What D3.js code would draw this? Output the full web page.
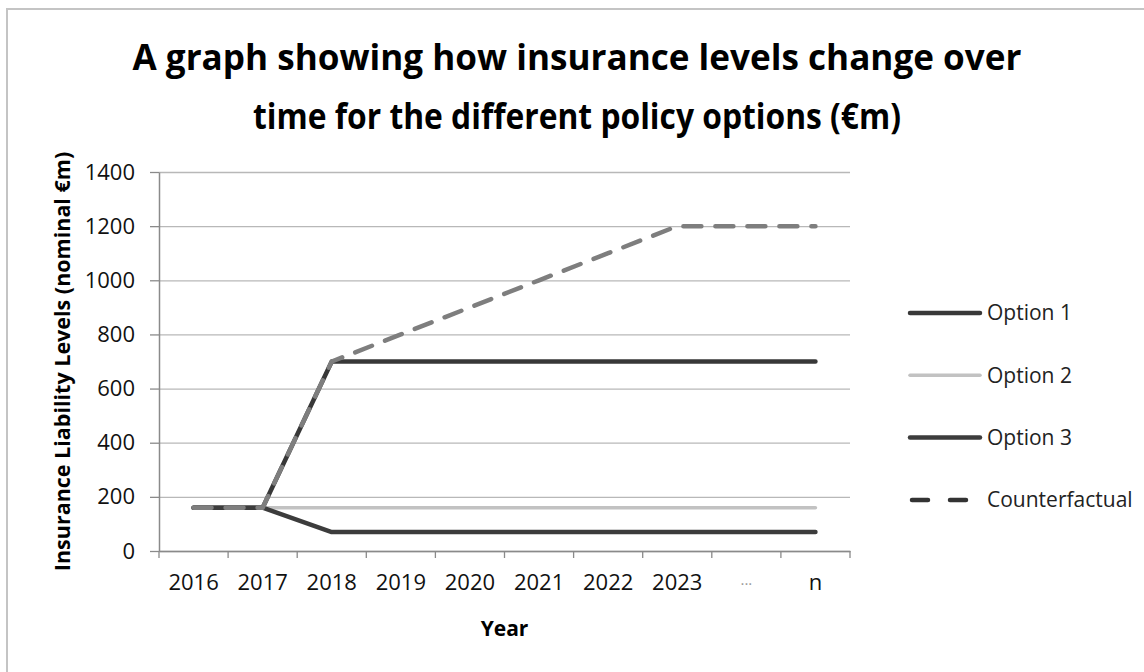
<!DOCTYPE html>
<html>
<head>
<meta charset="utf-8">
<script src="https://cdn.jsdelivr.net/npm/d3@7"></script>
<style>
  body { margin: 0; background: #fff; }
  svg { display: block; font-family: "Open Sans", sans-serif; }
</style>
</head>
<body>
<div id="chart"></div>
<script>
// values
var years = ['2016', '2017', '2018', '2019', '2020', '2021', '2022', '2023', '...', 'n'];
var option1 = [160, 160, 700, 700, 700, 700, 700, 700, 700, 700];
var option2 = [160, 160, 160, 160, 160, 160, 160, 160, 160, 160];
var option3 = [160, 160, 70, 70, 70, 70, 70, 70, 70, 70];
var counterfactual = [160, 160, 700, 800, 900, 1000, 1100, 1200, 1200, 1200];
var yTicks = [0, 200, 400, 600, 800, 1000, 1200, 1400];
var seriesNames = ['Option 1', 'Option 2', 'Option 3', 'Counterfactual'];

var titleLines = ['A graph showing how insurance levels change over',
                  'time for the different policy options (\u20acm)'];

function ready() {
  var W = 1144, H = 672;
  var left = 159, right = 850, top = 172, bottom = 551;

  var svg = d3.select('#chart').append('svg')
              .attr('width', W)
              .attr('height', H);

  svg.append('rect')
     .attr('width', W).attr('height', H)
     .attr('fill', '#fff');

  // scanned page frame
  svg.append('rect')
     .attr('x', 7).attr('y', 9)
     .attr('width', W + 20).attr('height', H + 20)
     .attr('fill', 'none')
     .attr('stroke', '#c4c4c4')
     .attr('stroke-width', 2);

  var x = d3.scaleBand().domain(years).range([left, right]);
  var y = d3.scaleLinear().domain([0, 1400]).range([bottom, top]);
  var cx = function(d) { return x(d) + x.bandwidth() / 2; };

  // title
  var title = svg.append('text')
                 .attr('text-anchor', 'middle')
                 .attr('font-weight', 'bold')
                 .attr('font-size', 35)
                 .attr('fill', '#000');
  var targetW = [889, 648];
  title.selectAll('tspan')
       .data(titleLines)
       .enter().append('tspan')
       .attr('x', 577)
       .attr('y', function(d, i) { return i == 0 ? 70 : 129; })
       .attr('textLength', function(d, i) { return targetW[i]; })
       .attr('lengthAdjust', 'spacingAndGlyphs')
       .text(function(d) { return d; });

  // gridlines
  svg.append('g')
     .attr('transform', 'translate(' + left + ',0)')
     .call(d3.axisLeft(y).tickValues(yTicks).tickSize(-(right - left)).tickFormat(''))
     .call(function(g) {
       g.select('.domain').remove();
       g.selectAll('line').attr('stroke', '#b8b8b8').attr('stroke-width', 1.3);
     });

  // y axis
  svg.append('g')
     .attr('transform', 'translate(' + left + ',0)')
     .call(d3.axisLeft(y).tickValues(yTicks).tickFormat(d3.format('d'))
             .tickSize(9).tickPadding(15).tickSizeOuter(0))
     .call(function(g) {
       g.select('.domain').attr('stroke', '#8a8a8a').attr('stroke-width', 1.5);
       g.selectAll('line').attr('stroke', '#8a8a8a').attr('stroke-width', 1.3);
       g.selectAll('text').attr('font-size', 22).attr('fill', '#111')
        .attr('font-family', '"Open Sans", sans-serif');
     });

  // x axis: labels centred, ticks between categories
  var xAxis = svg.append('g')
     .attr('transform', 'translate(0,' + bottom + ')')
     .call(d3.axisBottom(x).tickSize(0).tickPadding(23).tickSizeOuter(0))
     .call(function(g) {
       g.select('.domain').attr('stroke', '#8a8a8a').attr('stroke-width', 1.5);
       g.selectAll('text').attr('font-size', 22).attr('fill', '#111')
        .attr('font-family', '"Open Sans", sans-serif');
     });
  xAxis.selectAll('.tick text')
       .filter(function(d) { return d == '...'; })
       .attr('font-size', 15).attr('fill', '#999');

  var edges = years.map(function(d) { return x(d); }).concat([right]);
  xAxis.selectAll('.edge')
       .data(edges)
       .enter().append('line')
       .attr('class', 'edge')
       .attr('x1', function(d) { return d; })
       .attr('x2', function(d) { return d; })
       .attr('y1', 0).attr('y2', 7)
       .attr('stroke', '#8a8a8a')
       .attr('stroke-width', 1.3);

  // axis titles
  svg.append('text')
     .attr('transform', 'translate(62,' + ((top + bottom) / 2) + ') rotate(-90)')
     .attr('text-anchor', 'middle')
     .attr('dy', '0.35em')
     .attr('font-weight', 'bold')
     .attr('font-size', 21.5)
     .text('Insurance Liability Levels (nominal \u20acm)');

  svg.append('text')
     .attr('x', (left + right) / 2)
     .attr('y', 636)
     .attr('text-anchor', 'middle')
     .attr('font-weight', 'bold')
     .attr('font-size', 21)
     .text('Year');

  // lines
  var series = [
    { name: seriesNames[0], values: option1, color: '#383838', width: 4.5, dash: null },
    { name: seriesNames[1], values: option2, color: '#c2c2c2', width: 3.5, dash: null },
    { name: seriesNames[2], values: option3, color: '#3c3c3c', width: 4.5, dash: null },
    { name: seriesNames[3], values: counterfactual, color: '#7e7e7e', width: 4.5, dash: '18,14' }
  ];

  var line = d3.line()
               .x(function(d, i) { return cx(years[i]); })
               .y(function(d) { return y(d); });

  svg.append('g').selectAll('path')
     .data(series)
     .enter().append('path')
     .attr('d', function(s) { return line(s.values); })
     .attr('fill', 'none')
     .attr('stroke', function(s) { return s.color; })
     .attr('stroke-width', function(s) { return s.width; })
     .attr('stroke-dasharray', function(s) { return s.dash; })
     .attr('stroke-linejoin', 'round')
     .attr('stroke-linecap', 'round');

  // legend
  var legend = svg.append('g').attr('transform', 'translate(910,313)');
  var item = legend.selectAll('g')
                   .data(series)
                   .enter().append('g')
                   .attr('transform', function(d, i) { return 'translate(0,' + (i * 62.3) + ')'; });
  item.append('line')
      .attr('x1', function(s) { return s.dash ? 2 : 0; })
      .attr('x2', 70)
      .attr('stroke', function(s) { return s.dash ? '#333' : s.color; })
      .attr('stroke-width', function(s) { return s.width; })
      .attr('stroke-dasharray', function(s) { return s.dash ? '16,22' : null; })
      .attr('stroke-linecap', 'round');
  item.append('text')
      .attr('x', 77)
      .attr('dy', '0.35em')
      .attr('font-size', 21)
      .attr('fill', '#222')
      .text(function(s) { return s.name; });
}

ready();
</script>
</body>
</html>
